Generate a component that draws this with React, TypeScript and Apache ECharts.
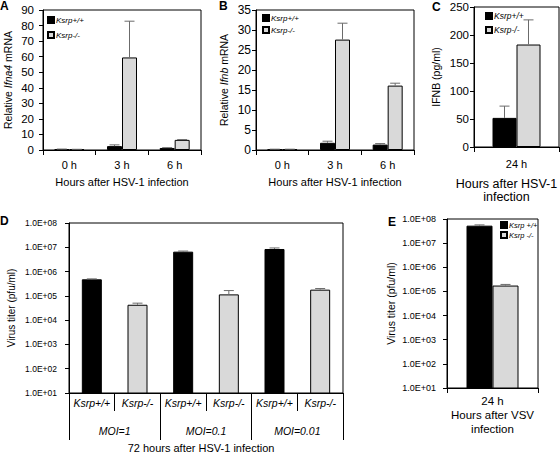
import React, { useEffect, useRef } from 'react';
import * as echarts from 'echarts';

const FONT = "'Liberation Sans', Arial, sans-serif";
const GRAY = '#d9d9d9';
const ERR = '#6b6b6b';

// Panel A – Ifna4 mRNA
const hoursAB = ['0 h', '3 h', '6 h'];
const ifna4Wt = [0.5, 2.5, 1.3];
const ifna4WtTop = [0.6, 3.3, 1.5];
const ifna4Ko = [0.4, 59.5, 6.5];
const ifna4KoTop = [0.45, 82.8, 6.7];

// Panel B – Ifnb mRNA
const ifnbWt = [0.15, 1.8, 1.35];
const ifnbWtTop = [0.2, 2.2, 1.6];
const ifnbKo = [0.15, 27.6, 16.1];
const ifnbKoTop = [0.2, 31.7, 16.7];

// Panel C – IFNB protein
const hoursC = ['24 h'];
const ifnbProtWt = [52];
const ifnbProtWtTop = [73];
const ifnbProtKo = [183];
const ifnbProtKoTop = [227];

// Panel D – HSV-1 titers
const genotypesD = ['Ksrp+/+', 'Ksrp-/-', 'Ksrp+/+', 'Ksrp-/-', 'Ksrp+/+', 'Ksrp-/-'];
const moiGroups = ['MOI=1', 'MOI=0.1', 'MOI=0.01'];
const hsvWt = [4.8e5, 6.6e6, 8.5e6];
const hsvWtTop = [5.0e5, 7.0e6, 9.4e6];
const hsvKo = [4.3e4, 1.15e5, 1.8e5];
const hsvKoTop = [5.0e4, 1.65e5, 2.0e5];

// Panel E – VSV titers
const hoursE = ['24 h'];
const vsvWt = [5.3e7];
const vsvWtTop = [5.7e7];
const vsvKo = [1.75e5];
const vsvKoTop = [1.95e5];

const expLabel = (v: number) => {
  const e = Math.round(Math.log10(v));
  return '1.0E+' + String(e).padStart(2, '0');
};

function errSeries(xi: number, yi: number, idx: number[], vals: number[], tops: number[], offset: number) {
  return {
    type: 'custom',
    name: 'err',
    xAxisIndex: xi,
    yAxisIndex: yi,
    z: 5,
    silent: true,
    encode: { x: 0, y: [1, 2] },
    data: vals.map((v, i) => [idx[i], v, tops[i]]),
    renderItem: (_p: any, api: any) => {
      const a = api.coord([api.value(0), api.value(1)]);
      const b = api.coord([api.value(0), api.value(2)]);
      const x = a[0] + offset;
      const st = { stroke: ERR, lineWidth: 1 };
      return {
        type: 'group',
        children: [
          { type: 'line', shape: { x1: x, y1: a[1], x2: x, y2: b[1] }, style: st },
          { type: 'line', shape: { x1: x - 5, y1: b[1], x2: x + 5, y2: b[1] }, style: st },
        ],
      };
    },
  };
}

const blackStyle = { color: '#000', borderColor: '#000', borderWidth: 1 };
const grayStyle = { color: GRAY, borderColor: '#000', borderWidth: 1 };

function catX(gridIndex: number, data: string[], extra: any = {}) {
  return {
    type: 'category',
    gridIndex,
    data,
    axisLine: { onZero: false, lineStyle: { color: '#000', width: 1 } },
    axisTick: { show: true, length: 5, interval: 0, lineStyle: { color: '#000' } },
    axisLabel: { color: '#000', fontFamily: FONT, fontSize: 11, margin: 9, interval: 0 },
    nameLocation: 'middle',
    nameTextStyle: { color: '#000', fontFamily: FONT, fontSize: 11 },
    ...extra,
  };
}

function valY(gridIndex: number, extra: any = {}) {
  return {
    gridIndex,
    axisLine: { show: true, onZero: false, lineStyle: { color: '#000', width: 1 } },
    axisTick: { show: true, length: 4, lineStyle: { color: '#000' } },
    splitLine: { show: false },
    nameLocation: 'middle',
    nameRotate: 90,
    ...extra,
  };
}

function legendAt(left: number, top: number, gap: number, names: string[], size = 8) {
  return {
    left,
    top,
    orient: 'vertical',
    padding: 0,
    itemGap: gap,
    itemWidth: 6,
    itemHeight: 6,
    icon: 'rect',
    data: names,
    textStyle: { fontSize: size, fontStyle: 'italic', color: '#000', fontFamily: FONT, lineHeight: 10, padding: [0, 0, 0, -3] },
  };
}

export default function App() {
  const ref = useRef<HTMLDivElement>(null);
  useEffect(() => {
    if (!ref.current) return;
    const chart = echarts.init(ref.current, null, { renderer: 'svg' });
    const gridBase = {
      show: true, borderColor: '#000', borderWidth: 1, backgroundColor: 'transparent',
      containLabel: false, outerBoundsMode: 'none',
    };

    const dData = genotypesD.map((_, i) => {
      const g = Math.floor(i / 2);
      return i % 2 === 0
        ? { value: hsvWt[g], itemStyle: blackStyle }
        : { value: hsvKo[g], itemStyle: grayStyle };
    });

    const titleStyle = { fontSize: 12, fontWeight: 'bold', color: '#000', fontFamily: FONT };

    const option: any = {
      animation: false,
      textStyle: { fontFamily: FONT },
      title: [
        { text: 'A', left: 0, top: 0, padding: 0, textStyle: titleStyle },
        { text: 'B', left: 219, top: 0, padding: 0, textStyle: titleStyle },
        { text: 'C', left: 432, top: 1, padding: 0, textStyle: titleStyle },
        { text: 'D', left: 0, top: 215, padding: 0, textStyle: titleStyle },
        { text: 'E', left: 388, top: 216, padding: 0, textStyle: titleStyle },
      ],
      legend: [
        legendAt(47, 15, 5, ['Ksrp+/+', 'Ksrp-/-']),
        legendAt(262, 13, 2, ['Ksrp+/+', 'Ksrp-/-']),
        legendAt(485, 11, 4, ['Ksrp+/+', 'Ksrp-/-'], 8.5),
        legendAt(500, 220, 0, ['Ksrp +/+', 'Ksrp -/-'], 7.5),
      ],
      grid: [
        { ...gridBase, left: 43, top: 10, width: 158, height: 140 },
        { ...gridBase, left: 256, top: 10, width: 158, height: 140 },
        { ...gridBase, left: 474, top: 7, width: 85, height: 140 },
        { ...gridBase, left: 69, top: 223, width: 274, height: 170 },
        { ...gridBase, left: 447, top: 219, width: 91, height: 169 },
      ],
      xAxis: [
        catX(0, hoursAB, { name: 'Hours after HSV-1 infection', nameGap: 26 }),
        catX(1, hoursAB, { name: 'Hours after HSV-1 infection', nameGap: 26 }),
        catX(2, hoursC, {
          name: 'Hours after HSV-1\ninfection',
          nameGap: 30,
          nameTextStyle: { color: '#000', fontFamily: FONT, fontSize: 12.5, lineHeight: 13, padding: [0, 20, 0, 0] },
          axisLabel: { color: '#000', fontFamily: FONT, fontSize: 11, margin: 11 },
        }),
        catX(3, genotypesD, {
          position: 'bottom',
          axisTick: { show: true, length: 18, interval: 0, lineStyle: { color: '#000' } },
          axisLabel: { color: '#000', fontFamily: FONT, fontSize: 10.5, fontStyle: 'italic', margin: 4, interval: 0 },
        }),
        catX(3, moiGroups, {
          position: 'bottom',
          axisLine: { show: false, onZero: false },
          axisTick: { show: true, length: 47, interval: 0, lineStyle: { color: '#000' } },
          axisLabel: { color: '#000', fontFamily: FONT, fontSize: 10.5, fontStyle: 'italic', margin: 32, interval: 0 },
          name: '72 hours after HSV-1 infection',
          nameGap: 49,
          nameTextStyle: { color: '#000', fontFamily: FONT, fontSize: 11, padding: [0, 10, 0, 0] },
        }),
        catX(4, hoursE, {
          axisLabel: { color: '#000', fontFamily: FONT, fontSize: 11.5, margin: 7 },
          name: 'Hours after VSV\ninfection',
          nameGap: 18,
          nameTextStyle: { color: '#000', fontFamily: FONT, fontSize: 11.5, lineHeight: 14 },
        }),
      ],
      yAxis: [
        valY(0, {
          type: 'value', min: 0, max: 90, interval: 10,
          axisLabel: { color: '#000', fontFamily: FONT, fontSize: 11.5, margin: 9 },
          name: 'Relative {i|Ifna4} mRNA', nameGap: 30,
          nameTextStyle: { color: '#000', fontFamily: FONT, fontSize: 10.5, rich: { i: { fontStyle: 'italic', fontSize: 10.5, fontFamily: FONT, color: '#000' } } },
        }),
        valY(1, {
          type: 'value', min: 0, max: 35, interval: 5,
          axisLabel: { color: '#000', fontFamily: FONT, fontSize: 12, margin: 5 },
          name: 'Relative {i|Ifnb} mRNA', nameGap: 27,
          nameTextStyle: { color: '#000', fontFamily: FONT, fontSize: 10.5, rich: { i: { fontStyle: 'italic', fontSize: 10.5, fontFamily: FONT, color: '#000' } } },
        }),
        valY(2, {
          type: 'value', min: 0, max: 250, interval: 50,
          axisLabel: { color: '#000', fontFamily: FONT, fontSize: 11.5, margin: 5 },
          name: 'IFNB (pg/ml)', nameGap: 33,
          nameTextStyle: { color: '#000', fontFamily: FONT, fontSize: 10.5 },
        }),
        valY(3, {
          type: 'log', logBase: 10, min: 10, max: 1e8, splitNumber: 7,
          axisLabel: { color: '#000', fontFamily: FONT, fontSize: 8.5, margin: 12, formatter: expLabel },
          name: 'Virus titer (pfu/ml)', nameGap: 53,
          nameTextStyle: { color: '#000', fontFamily: FONT, fontSize: 10 },
        }),
        valY(4, {
          type: 'log', logBase: 10, min: 10, max: 1e8, splitNumber: 7,
          axisLabel: { color: '#000', fontFamily: FONT, fontSize: 9, margin: 11, formatter: expLabel },
          name: 'Virus titer (pfu/ml)', nameGap: 51,
          nameTextStyle: { color: '#000', fontFamily: FONT, fontSize: 10.5 },
        }),
      ],
      series: [
        // A
        { type: 'bar', name: 'Ksrp+/+', xAxisIndex: 0, yAxisIndex: 0, data: ifna4Wt, barWidth: 15, barGap: '0%', itemStyle: blackStyle },
        { type: 'bar', name: 'Ksrp-/-', xAxisIndex: 0, yAxisIndex: 0, data: ifna4Ko, barWidth: 15, barGap: '0%', itemStyle: grayStyle },
        errSeries(0, 0, [0, 1, 2], ifna4Wt, ifna4WtTop, -7.5),
        errSeries(0, 0, [0, 1, 2], ifna4Ko, ifna4KoTop, 7.5),
        // B
        { type: 'bar', name: 'Ksrp+/+', xAxisIndex: 1, yAxisIndex: 1, data: ifnbWt, barWidth: 15, barGap: '0%', itemStyle: blackStyle },
        { type: 'bar', name: 'Ksrp-/-', xAxisIndex: 1, yAxisIndex: 1, data: ifnbKo, barWidth: 15, barGap: '0%', itemStyle: grayStyle },
        errSeries(1, 1, [0, 1, 2], ifnbWt, ifnbWtTop, -7.5),
        errSeries(1, 1, [0, 1, 2], ifnbKo, ifnbKoTop, 7.5),
        // C
        { type: 'bar', name: 'Ksrp+/+', xAxisIndex: 2, yAxisIndex: 2, data: ifnbProtWt, barWidth: 24, barGap: '0%', itemStyle: blackStyle },
        { type: 'bar', name: 'Ksrp-/-', xAxisIndex: 2, yAxisIndex: 2, data: ifnbProtKo, barWidth: 24, barGap: '0%', itemStyle: grayStyle },
        errSeries(2, 2, [0], ifnbProtWt, ifnbProtWtTop, -12),
        errSeries(2, 2, [0], ifnbProtKo, ifnbProtKoTop, 12),
        // D
        { type: 'bar', name: 'HSV-1 titer', xAxisIndex: 3, yAxisIndex: 3, data: dData, barWidth: 20, clip: true },
        errSeries(3, 3, [0, 2, 4], hsvWt, hsvWtTop, 0),
        errSeries(3, 3, [1, 3, 5], hsvKo, hsvKoTop, 0),
        // E
        { type: 'bar', name: 'Ksrp +/+', xAxisIndex: 5, yAxisIndex: 4, data: vsvWt, barWidth: 26, barGap: '0%', itemStyle: blackStyle, clip: true },
        { type: 'bar', name: 'Ksrp -/-', xAxisIndex: 5, yAxisIndex: 4, data: vsvKo, barWidth: 26, barGap: '0%', itemStyle: grayStyle, clip: true },
        errSeries(5, 4, [0], vsvWt, vsvWtTop, -13),
        errSeries(5, 4, [0], vsvKo, vsvKoTop, 13),
      ],
    };
    chart.setOption(option);
    return () => chart.dispose();
  }, []);
  return (
    <div
      ref={ref}
      style={{ position: 'fixed', left: 0, top: 0, width: 560, height: 454, background: '#fff' }}
    />
  );
}
